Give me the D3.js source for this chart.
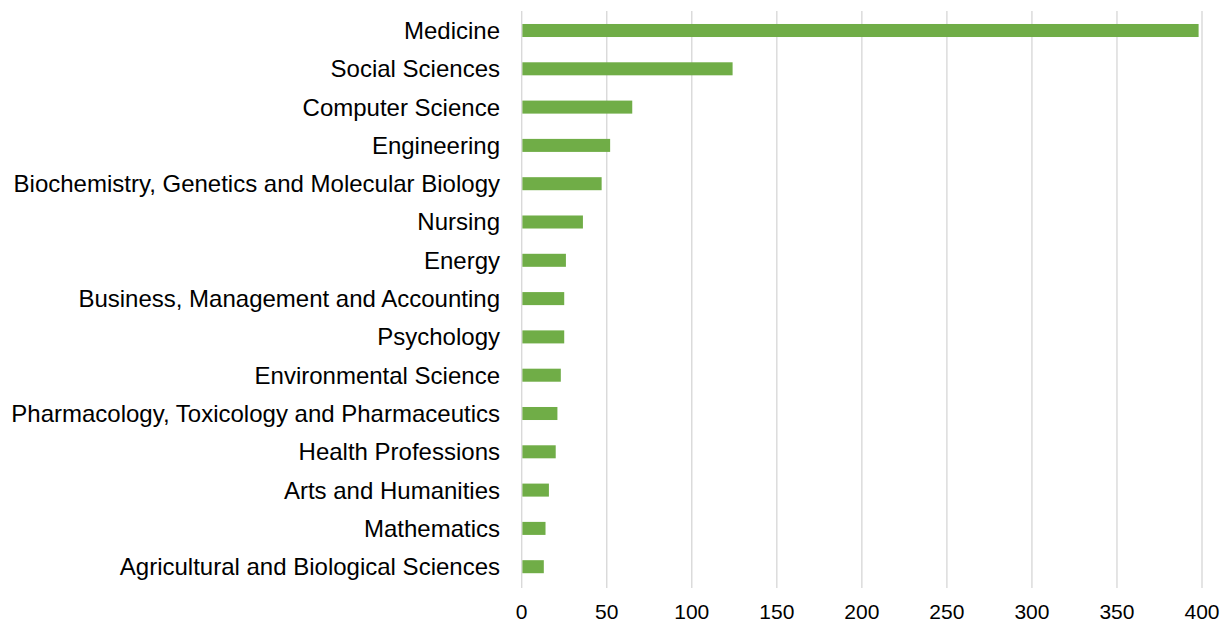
<!DOCTYPE html>
<html>
<head>
<meta charset="utf-8">
<script src="https://cdn.jsdelivr.net/npm/d3@7"></script>
<style>
  html, body { margin: 0; padding: 0; background: #fff; }
  svg { display: block; }
  text { font-family: "Liberation Sans", Arial, sans-serif; fill: #000; }
</style>
</head>
<body>
<svg id="chart" width="1226" height="624"></svg>
<script>
const categories = [
  "Medicine",
  "Social Sciences",
  "Computer Science",
  "Engineering",
  "Biochemistry, Genetics and Molecular Biology",
  "Nursing",
  "Energy",
  "Business, Management and Accounting",
  "Psychology",
  "Environmental Science",
  "Pharmacology, Toxicology and Pharmaceutics",
  "Health Professions",
  "Arts and Humanities",
  "Mathematics",
  "Agricultural and Biological Sciences"
];
const values = [398, 124, 65, 52, 47, 36, 26, 25, 25, 23, 21, 20, 16, 14, 13];
const tickValues = [0, 50, 100, 150, 200, 250, 300, 350, 400];

const svg = d3.select("#chart");
const x = d3.scaleLinear().domain([0, 400]).range([521.7, 1202]);
const y = d3.scaleBand().domain(categories).range([11.35, 585.85])
  .paddingInner(0.66).paddingOuter(0.33);

// gridlines
svg.append("g").selectAll("line").data(tickValues).join("line")
  .attr("x1", d => x(d)).attr("x2", d => x(d))
  .attr("y1", 11).attr("y2", 588)
  .attr("stroke", "#d9d9d9").attr("stroke-width", 1.4);

// bars
svg.append("g").selectAll("rect").data(values).join("rect")
  .attr("x", x(0) + 0.7)
  .attr("y", (d, i) => y(categories[i]))
  .attr("width", d => x(d) - x(0) - 0.7)
  .attr("height", y.bandwidth())
  .attr("fill", "#70ad47");

// category labels
svg.append("g").selectAll("text").data(categories).join("text")
  .attr("x", 500)
  .attr("y", d => y(d) + y.bandwidth() / 2)
  .attr("dy", "0.35em")
  .attr("text-anchor", "end")
  .style("font-size", "24px")
  .text(d => d);

// x tick labels
svg.append("g").selectAll("text").data(tickValues).join("text")
  .attr("x", d => x(d))
  .attr("y", 619)
  .attr("text-anchor", "middle")
  .style("font-size", "21px")
  .text(d => d3.format("d")(d));
</script>
</body>
</html>
